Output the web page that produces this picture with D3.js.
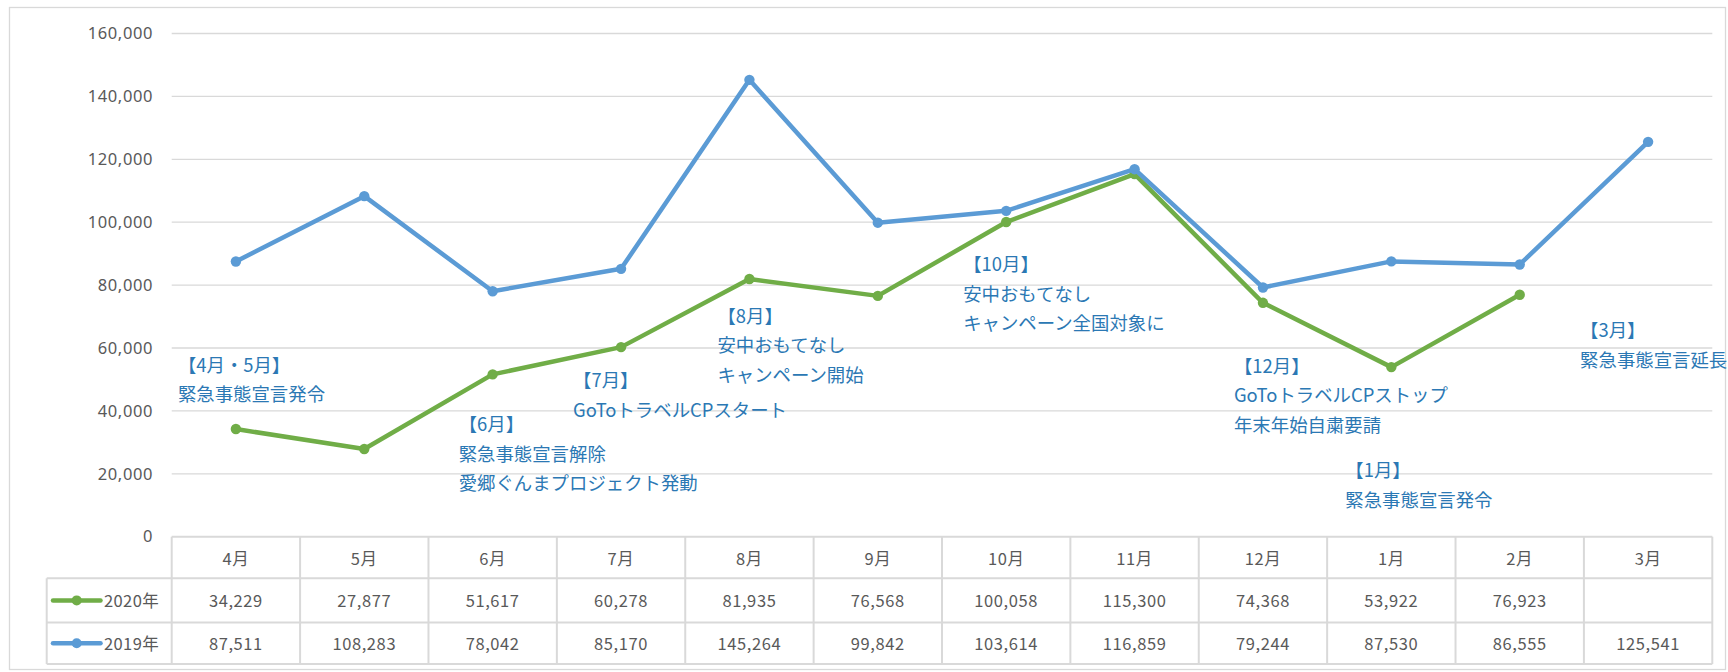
<!DOCTYPE html>
<html>
<head>
<meta charset="utf-8">
<script src="https://cdn.jsdelivr.net/npm/d3@7"></script>
<style>
  html, body { margin: 0; padding: 0; background: #fff; }
  svg { display: block; }
  text { font-family: "Noto Sans CJK JP", "Noto Sans", sans-serif; }
</style>
</head>
<body>
<svg id="chart" width="1728" height="672"></svg>
<script>
// ---------- data ----------
const months = ["4月","5月","6月","7月","8月","9月","10月","11月","12月","1月","2月","3月"];
const values2020 = [34229, 27877, 51617, 60278, 81935, 76568, 100058, 115300, 74368, 53922, 76923, null];
const values2019 = [87511, 108283, 78042, 85170, 145264, 99842, 103614, 116859, 79244, 87530, 86555, 125541];
const seriesNames = ["2020年", "2019年"];
const yTicks = [0, 20000, 40000, 60000, 80000, 100000, 120000, 140000, 160000];

const noteMonths = ["4月","6月","7月","8月","10月","12月","1月","3月"];
const noteTexts = [
  ["【4月・5月】", "緊急事態宣言発令"],
  ["【6月】", "緊急事態宣言解除", "愛郷ぐんまプロジェクト発動"],
  ["【7月】", "GoToトラベルCPスタート"],
  ["【8月】", "安中おもてなし", "キャンペーン開始"],
  ["【10月】", "安中おもてなし", "キャンペーン全国対象に"],
  ["【12月】", "GoToトラベルCPストップ", "年末年始自粛要請"],
  ["【1月】", "緊急事態宣言発令"],
  ["【3月】", "緊急事態宣言延長"]
];

// ---------- layout (not data) ----------
const noteAnchorValue = [55000, 36000, 50000, 70500, 87000, 54600, 21500, 66000];
const noteDx = [-58, -34, -48, -32, -43, -29, -46, -68];

const W = 1728, H = 672;
const plot = { left: 171.7, right: 1712.3, top: 33.5, bottom: 536.7 };
const tableLeft = 46.7;
const rowEdges = [536.7, 578.3, 622.5, 664];
const colors = { g2020: "#70AD47", b2019: "#5B9BD5", grid: "#D9D9D9", text: "#595959", note: "#2B78B4" };

const svg = d3.select("#chart");

// outer border
svg.append("rect").attr("x", 9.5).attr("y", 7.5).attr("width", 1716).attr("height", 662)
  .attr("fill", "#fff").attr("stroke", colors.grid).attr("stroke-width", 1.3);

const x = d3.scaleBand().domain(months).range([plot.left, plot.right]).padding(0);
const y = d3.scaleLinear().domain([0, 160000]).range([plot.bottom, plot.top]);
const xc = m => x(m) + x.bandwidth() / 2;

// gridlines
svg.append("g").selectAll("line").data(yTicks.filter(d => d > 0)).join("line")
  .attr("x1", plot.left).attr("x2", plot.right)
  .attr("y1", d => y(d)).attr("y2", d => y(d))
  .attr("stroke", colors.grid).attr("stroke-width", 1.3);

// y axis labels
const yAxis = d3.axisLeft(y).tickValues(yTicks).tickSize(0).tickPadding(0)
  .tickFormat(d3.format(","));
const yg = svg.append("g").attr("transform", `translate(153,0)`).call(yAxis);
yg.select(".domain").remove();
yg.selectAll("text").attr("fill", colors.text).style("font-size", "16.5px")
  .style("letter-spacing", "0.6px")
  .style("font-family", "'Noto Sans', sans-serif");

// ---------- data table ----------
const tg = svg.append("g");
// horizontal lines
tg.append("line").attr("x1", plot.left).attr("x2", plot.right).attr("y1", rowEdges[0]).attr("y2", rowEdges[0]);
[1, 2, 3].forEach(i => tg.append("line").attr("x1", tableLeft).attr("x2", plot.right)
  .attr("y1", rowEdges[i]).attr("y2", rowEdges[i]));
// vertical lines
tg.append("line").attr("x1", tableLeft).attr("x2", tableLeft).attr("y1", rowEdges[1]).attr("y2", rowEdges[3]);
months.forEach(m => tg.append("line").attr("x1", x(m)).attr("x2", x(m)).attr("y1", rowEdges[0]).attr("y2", rowEdges[3]));
tg.append("line").attr("x1", plot.right).attr("x2", plot.right).attr("y1", rowEdges[0]).attr("y2", rowEdges[3]);
tg.selectAll("line").attr("stroke", colors.grid).attr("stroke-width", 2);

const rowMid = i => (rowEdges[i] + rowEdges[i + 1]) / 2;
const cellText = (sel) => sel.attr("fill", colors.text).attr("text-anchor", "middle")
  .attr("dominant-baseline", "central").style("font-size", "16.5px").style("letter-spacing", "0.6px");

tg.selectAll("text.hdr").data(months).join("text").attr("class", "hdr")
  .attr("x", d => xc(d)).attr("y", rowMid(0)).text(d => d).call(cellText);

const fmt = d3.format(",");
[values2020, values2019].forEach((vals, r) => {
  tg.selectAll(`text.r${r}`).data(vals).join("text").attr("class", `r${r}`)
    .attr("x", (d, i) => xc(months[i])).attr("y", rowMid(r + 1))
    .text(d => d == null ? "" : fmt(d)).call(cellText);
});

// legend keys in table
[colors.g2020, colors.b2019].forEach((c, r) => {
  const cy = rowMid(r + 1);
  tg.append("line").attr("x1", 53).attr("x2", 100.5).attr("y1", cy).attr("y2", cy)
    .attr("stroke", c).attr("stroke-width", 4.5).attr("stroke-linecap", "round");
  tg.append("circle").attr("cx", 76.7).attr("cy", cy).attr("r", 5).attr("fill", c);
  tg.append("text").attr("x", 104).attr("y", cy).attr("dominant-baseline", "central")
    .attr("fill", colors.text).style("font-size", "16.5px").style("letter-spacing", "0.4px")
    .text(seriesNames[r]);
});

// ---------- lines ----------
const line = d3.line().defined(d => d.v != null).x(d => xc(d.m)).y(d => y(d.v));
const draw = (vals, c) => {
  const pts = vals.map((v, i) => ({ m: months[i], v }));
  svg.append("path").datum(pts).attr("d", line).attr("fill", "none")
    .attr("stroke", c).attr("stroke-width", 4.5).attr("stroke-linejoin", "round").attr("stroke-linecap", "round");
  svg.append("g").selectAll("circle").data(pts.filter(d => d.v != null)).join("circle")
    .attr("cx", d => xc(d.m)).attr("cy", d => y(d.v)).attr("r", 5.2).attr("fill", c);
};
draw(values2020, colors.g2020);
draw(values2019, colors.b2019);

// ---------- annotations ----------
const ng = svg.append("g");
noteTexts.forEach((lines, k) => {
  const x0 = xc(noteMonths[k]) + noteDx[k];
  const y0 = y(noteAnchorValue[k]);
  lines.forEach((t, j) => {
    ng.append("text").attr("x", x0).attr("y", y0 + j * 29.5)
      .attr("dominant-baseline", "central").attr("fill", colors.note)
      .style("font-size", "18.4px").text(t);
  });
});
</script>
</body>
</html>
